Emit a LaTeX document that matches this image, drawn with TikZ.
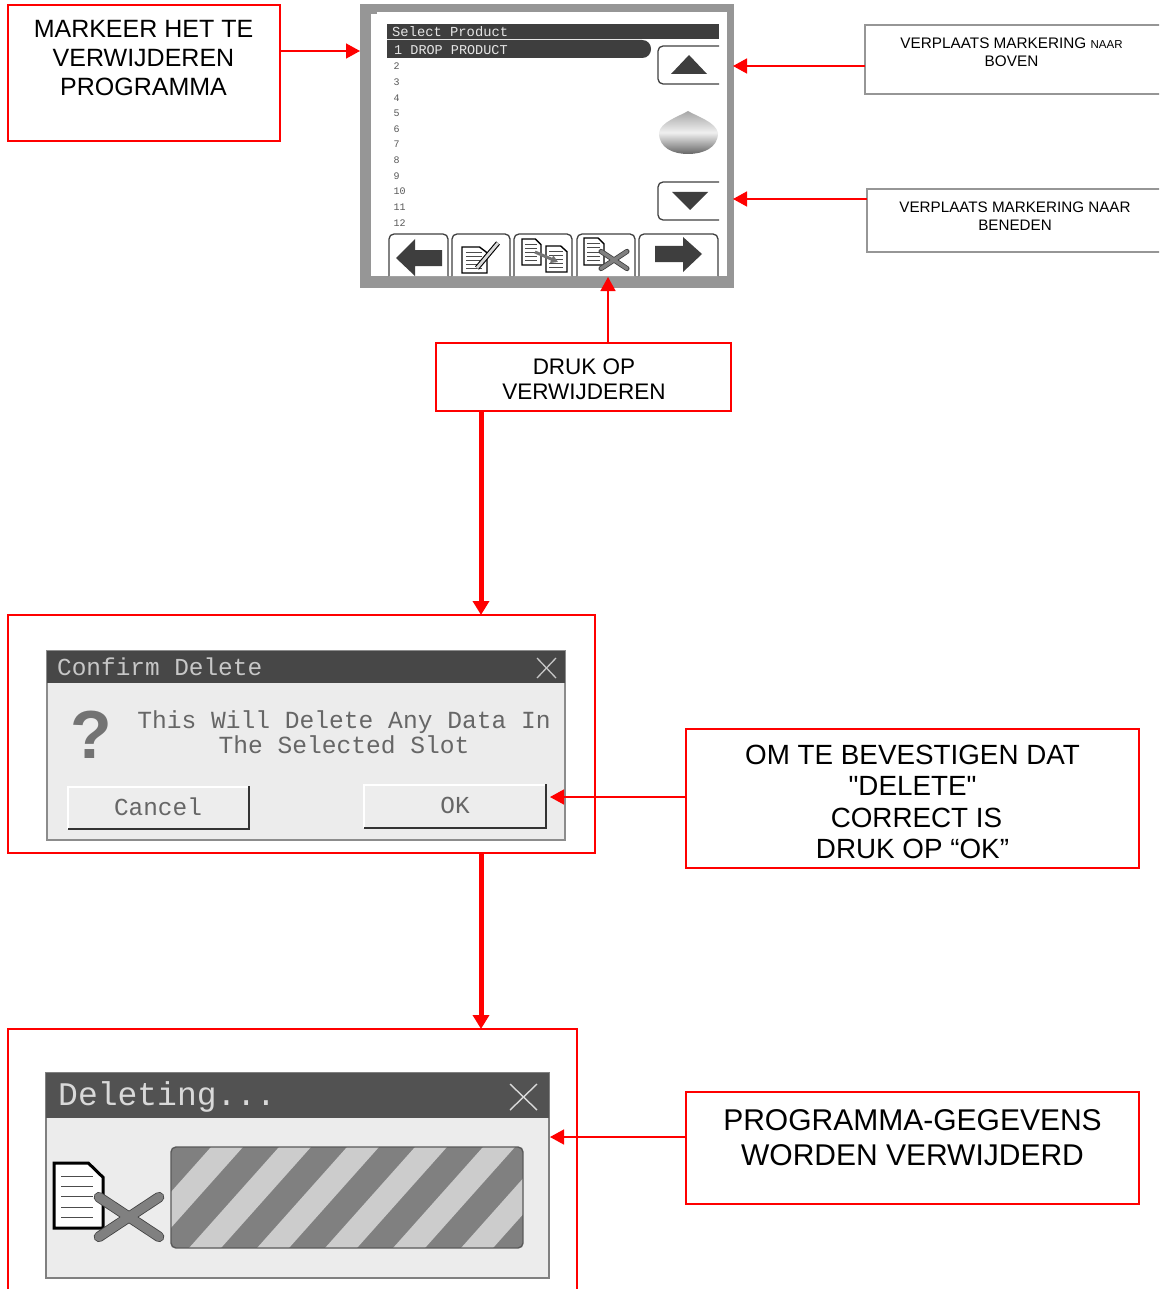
\documentclass[tikz,border=0pt]{standalone}
\usepackage{fontspec}
\setmainfont{Liberation Sans}[Ligatures=TeXOff]
\setmonofont{Liberation Mono}
\usetikzlibrary{arrows.meta}
\definecolor{rood}{RGB}{255,0,0}
\definecolor{kader}{RGB}{150,150,150}
\definecolor{balk}{RGB}{62,62,62}
\definecolor{dialoog}{RGB}{236,236,236}
\tikzset{
  redbox/.style={draw=rood,line width=1.5pt,anchor=north west,inner sep=0pt,outer sep=0pt},
  greybox/.style={draw=kader,line width=1.5pt,anchor=north west,inner sep=0pt,outer sep=0pt},
  tag/.style={align=center,inner sep=0pt,text=black},
  redline/.style={draw=rood,line width=1.5pt,-{Triangle[length=14pt,width=15pt]}},
  fatline/.style={draw=rood,line width=5pt,-{Triangle[length=14pt,width=16pt]}},
  scrtext/.style={inner sep=0pt,font=\ttfamily},
  softkey/.style={draw=black!75,line width=1.3pt,fill=white,rounded corners=5pt},
  dlgkey/.style={fill=black!7,draw=none},
}
% small page icon
\newcommand{\docicon}[5]{
\draw [black,line width=#5,fill=white] (#1,#2)--(#1+#3*0.7,#2)--(#1+#3,#2+#4*0.22)--(#1+#3,#2+#4)--(#1,#2+#4)--cycle;
\foreach \r in {0.2,0.36,0.52,0.68,0.84} \draw [black!70,line width=0.9pt] (#1+#3*0.15,#2+#4*\r)--(#1+#3*0.8,#2+#4*\r);
}
% grey cross with dark edge
\newcommand{\crossicon}[4]{
\foreach \a/\b in {1/1,1/-1} {
\draw [black!75,line width=#4+1.6pt,line cap=round] (#1-#3*\a,#2-#3*0.66*\b)--(#1+#3*\a,#2+#3*0.66*\b);
}
\foreach \a/\b in {1/1,1/-1} {
\draw [black!50,line width=#4,line cap=round] (#1-#3*\a,#2-#3*0.66*\b)--(#1+#3*\a,#2+#3*0.66*\b);
}
}
\begin{document}
\begin{tikzpicture}[x=1pt,y=-1pt]
\path [use as bounding box,clip] (0,0) rectangle (1159,1289);
\fill [white] (0,0) rectangle (1159,1289);

% touch screen
\node [fill=kader,anchor=north west,minimum width=374pt,minimum height=284pt,inner sep=0pt,outer sep=0pt] (screen) at (360,4) {};
\fill [white] (371,12) rectangle (727,276);
\fill [kader] (371,12) rectangle (377,14);
\fill [balk] (387,24) rectangle (719,39);
\node [scrtext,text=black!10,font=\ttfamily\fontsize{13.8}{14}\selectfont,anchor=west] (seltitle) at (392,32) {Select Product};
\fill [balk] (387,40)--(642,40) .. controls (654,40) and (654,58) .. (642,58)--(387,58)--cycle;
\node [scrtext,text=black!10,font=\ttfamily\fontsize{13.5}{14}\selectfont,anchor=west] (selrow) at (394,50) {1 DROP PRODUCT};
\foreach \n/\y in {2/66,3/82,4/98,5/113,6/129,7/144,8/160,9/176,10/191,11/207,12/223}
  \node [scrtext,text=black!65,font=\ttfamily\fontsize{10}{11}\selectfont,anchor=west] (row\n) at (393.5,\y) {\n};

% up and down
\draw [black!75,line width=1.3pt,rounded corners=5pt] (719,46)--(658,46)--(658,84)--(719,84);
\fill [balk] (671,74)--(707,74)--(689,55)--cycle;
\draw [black!75,line width=1.3pt,rounded corners=5pt] (719,182)--(658,182)--(658,220)--(719,220);
\fill [balk] (672,192)--(708,192)--(690,210)--cycle;
\shade [top color=black!35,bottom color=black!60,middle color=black!6] (659,133) .. controls (660,122) and (680,116) .. (688,111) .. controls (696,116) and (716,122) .. (718,133) .. controls (718,148) and (703,154) .. (688,154) .. controls (673,154) and (659,148) .. (659,133)--cycle;

% soft keys
\foreach \a/\b in {389/448,452/510,514/572,577/635,639/718}
  \draw [softkey] (\a,276)--(\a,234)--(\b,234)--(\b,276);
\fill [balk] (396,258)--(415,239)--(415,250)--(442,250)--(442,266)--(415,266)--(415,276)--cycle;
\fill [balk] (702,254)--(683,237)--(683,246)--(655,246)--(655,262)--(683,262)--(683,272)--cycle;
\docicon{462}{247}{25}{26}{1.4pt}
\draw [black,line width=5pt] (477,268)--(498,243);
\draw [black!15,line width=2.8pt] (477,268)--(498,243);
\docicon{522}{239}{19}{26}{1.4pt}
\docicon{546}{246}{21}{26}{1.4pt}
\draw [black!55,line width=3pt,-{Triangle[length=7pt,width=8pt]}] (535,252)--(558,262);
\docicon{584}{238}{20}{27}{1.4pt}
\crossicon{614}{260}{13}{3.5pt}

% first dialog
\node [draw=black!45,line width=1.2pt,fill=dialoog,anchor=north west,minimum width=518pt,minimum height=189pt,inner sep=0pt,outer sep=0pt] (confirm) at (47,651) {};
\fill [black!72] (47,651) rectangle (565,683);
\node [scrtext,text=black!22,font=\ttfamily\fontsize{24.4}{26}\selectfont,anchor=west] (conftitle) at (57,667) {Confirm Delete};
\draw [black!22,line width=1.3pt] (537,658)--(556,678) (556,658)--(537,678);
\node [inner sep=0pt,text=black!55,font=\bfseries\fontsize{68}{68}\selectfont] (quest) at (91,735) {?};
\node [scrtext,text=black!60,align=center,font=\ttfamily\fontsize{24.6}{25}\selectfont] (conftext) at (344,732) {This Will Delete Any Data In\\The Selected Slot};
\fill [dlgkey] (68,787) rectangle (249,829);
\draw [white,line width=2pt] (68,829)--(68,787)--(249,787);
\draw [black!80,line width=2pt] (68,829)--(249,829)--(249,786);
\node [scrtext,text=black!60,font=\ttfamily\fontsize{24.4}{26}\selectfont] (cancel) at (158,807) {Cancel};
\fill [dlgkey] (364,785) rectangle (546,828);
\draw [white,line width=2pt] (364,828)--(364,785)--(546,785);
\draw [black!80,line width=2pt] (364,828)--(546,828)--(546,784);
\node [scrtext,text=black!60,font=\ttfamily\fontsize{24.4}{26}\selectfont] (okkey) at (455,805) {OK};

% second dialog
\node [draw=black!50,line width=1.4pt,fill=dialoog,anchor=north west,minimum width=503pt,minimum height=205pt,inner sep=0pt,outer sep=0pt] (deleting) at (46,1073) {};
\fill [black!68] (46,1073) rectangle (549,1118);
\node [scrtext,text=black!15,font=\ttfamily\fontsize{33}{35}\selectfont,anchor=west] (deltitle) at (58,1097) {Deleting...};
\draw [black!15,line width=1.4pt] (510,1084)--(537,1110) (537,1084)--(510,1110);
\begin{scope}
\clip [rounded corners=5pt] (171,1147) rectangle (523,1248);
\fill [black!50] (171,1147) rectangle (523,1248);
\foreach \x in {143,211,279,347,415,483,551}
  \fill [black!20] (\x,1147)--(\x+32,1147)--(\x-58,1248)--(\x-90,1248)--cycle;
\end{scope}
\draw [black!65,line width=1.4pt,rounded corners=5pt] (171,1147) rectangle (523,1248);
\docicon{54}{1163}{49}{65}{3pt}
\crossicon{129}{1217}{30}{9pt}

% frames and labels
\node [redbox,minimum width=272pt,minimum height=136pt] (markframe) at (8,5) {};
\node [tag,font=\fontsize{25}{29}\selectfont] (marktext) at (143.5,58.5) {MARKEER HET TE\\VERWIJDEREN\\PROGRAMMA};
\node [greybox,minimum width=300pt,minimum height=69pt] (upframe) at (865,25) {};
\node [tag,font=\fontsize{15.3}{18}\selectfont] (uptext) at (1011.5,52) {VERPLAATS MARKERING {\fontsize{11.5}{18}\selectfont NAAR}\\BOVEN};
\node [greybox,minimum width=300pt,minimum height=63pt] (downframe) at (867,189) {};
\node [tag,font=\fontsize{15.2}{18}\selectfont] (downtext) at (1015,216.5) {VERPLAATS MARKERING NAAR\\BENEDEN};
\node [redbox,minimum width=295pt,minimum height=68pt] (pressframe) at (436,343) {};
\node [tag,font=\fontsize{22.5}{25}\selectfont] (presstext) at (584,379) {DRUK OP\\VERWIJDEREN};
\node [redbox,minimum width=587pt,minimum height=238pt] (confframe) at (8,615) {};
\node [redbox,minimum width=453pt,minimum height=139pt] (okframe) at (686,729) {};
\node [tag,font=\fontsize{27.8}{31.5}\selectfont] (oktext) at (912.5,802) {OM TE BEVESTIGEN DAT\\"DELETE"\\\hspace*{8pt}CORRECT IS\\DRUK OP “OK”};
\node [redbox,minimum width=569pt,minimum height=290pt] (delframe) at (8,1029) {};
\node [redbox,minimum width=453pt,minimum height=112pt] (progframe) at (686,1092) {};
\node [tag,font=\fontsize{30}{35}\selectfont] (progtext) at (912.5,1137.5) {PROGRAMMA-GEGEVENS\\WORDEN VERWIJDERD};

% connectors
\coordinate (upkey) at (733,66);
\coordinate (downkey) at (733,199);
\coordinate (delkey) at (608,277);
\coordinate (okedge) at (550,797);
\coordinate (baredge) at (550,1137);
\coordinate (markpt) at (360,51);
\draw [redline] (markframe.east |- markpt)--(markpt);
\draw [redline] (upframe.west |- upkey)--(upkey);
\draw [redline] (downframe.west |- downkey)--(downkey);
\draw [redline] (pressframe.north -| delkey)--(delkey);
\draw [redline] (okframe.west |- okedge)--(okedge);
\draw [redline] (progframe.west |- baredge)--(baredge);
\coordinate (fatx) at (481,0);
\draw [fatline] (pressframe.south -| fatx)--(confframe.north -| fatx);
\draw [fatline] (confframe.south -| fatx)--(delframe.north -| fatx);
\end{tikzpicture}
\end{document}
